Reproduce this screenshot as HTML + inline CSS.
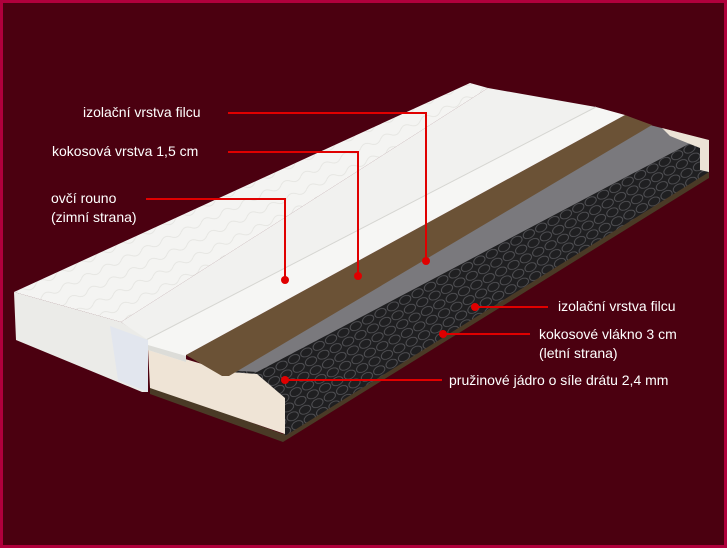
<!DOCTYPE html>
<html><head><meta charset="utf-8"><style>
html,body{margin:0;padding:0}
body{width:727px;height:548px;overflow:hidden;background:#4b0010}
svg{display:block}
text{font-family:"Liberation Sans",sans-serif;font-size:14px;fill:#fff}
</style></head><body>
<svg width="727" height="548" viewBox="0 0 727 548">
<defs>
<pattern id="spr" width="14" height="10" patternUnits="userSpaceOnUse" patternTransform="rotate(-28)">
<rect width="14" height="10" fill="#1f1f21"/>
<ellipse cx="7" cy="5" rx="6" ry="4" fill="none" stroke="#5a5a5e" stroke-width="0.8"/>
</pattern>
<pattern id="q" width="22" height="14" patternUnits="userSpaceOnUse" patternTransform="rotate(-25)">
<rect width="22" height="14" fill="#f4f4f2"/>
<path d="M0 7 Q5.5 2 11 7 T22 7" fill="none" stroke="#e2e2de" stroke-width="0.8"/>
</pattern>
</defs>
<rect x="1.5" y="1.5" width="724" height="545" fill="#4b0010" stroke="#b0003c" stroke-width="3"/>
<!-- bottom brown strip -->
<polygon points="150,386 283,434 709,170 709,178 283,442 150,394" fill="#4a3a26"/>
<!-- springs -->
<polygon points="229,370 660,135 709,145 709,172 285,436 285,398" fill="url(#spr)"/>
<!-- grey felt -->
<polygon points="225,370 650,125 700,138 257,372" fill="#7a797d"/>
<!-- right foam end -->
<polygon points="662,128 709,140 709,172 700,170 700,148 670,136" fill="#ece3d6"/>
<!-- foam front face -->
<polygon points="148,348 229,372 257,374 285,398 285,434 150,388" fill="#efe4d6"/>
<!-- coconut -->
<polygon points="186,355 625,115 652,125 229,376 222,376" fill="#6b5236"/>
<!-- raised felt strip -->
<polygon points="146,340 596,107 625,115 186,355 186,362 148,350" fill="#f6f6f4"/>
<polygon points="148,345 186,356 186,362 148,350" fill="#dcdcd8"/>
<!-- quilted top face -->
<polygon points="14,292 470,83 488,88 121,322" fill="url(#q)"/>
<!-- smooth fleece band -->
<polygon points="121,322 488,88 596,107 146,340" fill="#f1f1ef"/>
<line x1="146" y1="340" x2="596" y2="107" stroke="#d6d6d2" stroke-width="1"/>
<!-- quilted front face -->
<polygon points="14,292 121,322 148,340 148,392 142,392 16,340" fill="#ebebe8"/>
<polygon points="110,326 148,340 148,392 118,380" fill="#e2e6ee"/>
<!-- labels -->
<g stroke="#e00000" stroke-width="2" fill="none">
<polyline points="228,113 426,113 426,260"/>
<polyline points="228,152 358,152 358,276"/>
<polyline points="146,199 285,199 285,280"/>
<line x1="475" y1="307" x2="548" y2="307"/>
<line x1="443" y1="334" x2="530" y2="334"/>
<line x1="285" y1="380" x2="442" y2="380"/>
</g>
<g fill="#e00000">
<circle cx="426" cy="261" r="4"/><circle cx="358" cy="276" r="4"/><circle cx="285" cy="280" r="4"/>
<circle cx="475" cy="307" r="4"/><circle cx="443" cy="334" r="4"/><circle cx="285" cy="380" r="4"/>
</g>
<text x="83" y="117">izolační vrstva filcu</text>
<text x="52" y="156">kokosová vrstva 1,5 cm</text>
<text x="51" y="203">ovčí rouno</text>
<text x="51" y="222">(zimní strana)</text>
<text x="558" y="311">izolační vrstva filcu</text>
<text x="539" y="339">kokosové vlákno 3 cm</text>
<text x="539" y="358">(letní strana)</text>
<text x="449" y="385">pružinové jádro o síle drátu 2,4 mm</text>
</svg>
</body></html>
